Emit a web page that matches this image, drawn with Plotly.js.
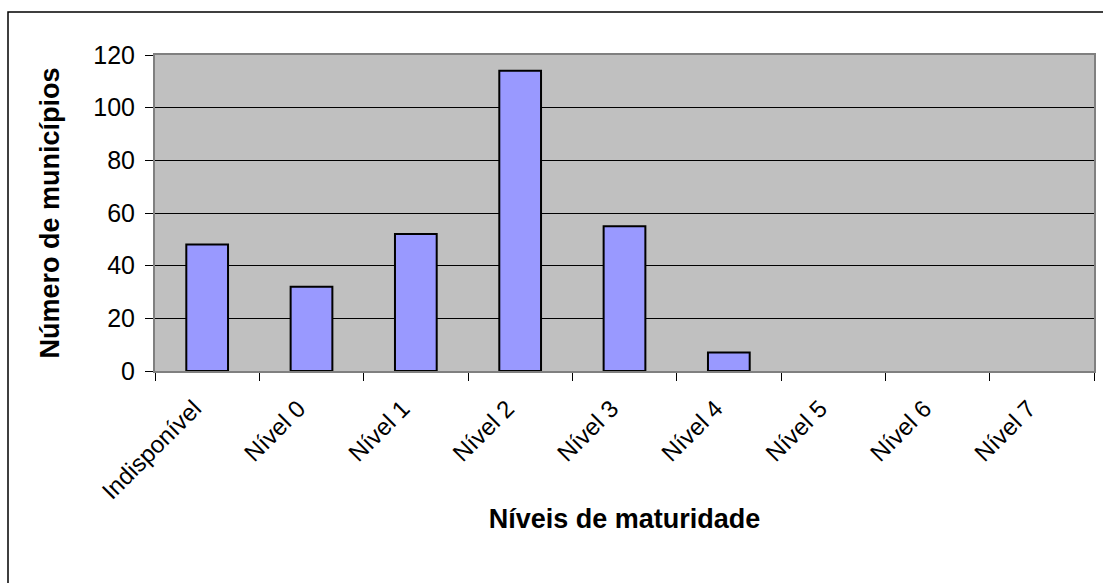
<!DOCTYPE html>
<html>
<head>
<meta charset="utf-8">
<script src="https://cdn.plot.ly/plotly-3.0.1.min.js"></script>
<style>html,body{margin:0;padding:0;background:#fff;}#chart{width:1103px;height:583px;}</style>
</head>
<body>
<div id="chart"></div>
<script>
const categories = ["Indisponível", "Nível 0", "Nível 1", "Nível 2", "Nível 3", "Nível 4", "Nível 5", "Nível 6", "Nível 7"];
const municipios = [48, 32, 52, 114, 55, 7, 0, 0, 0];
const yTicks = [0, 20, 40, 60, 80, 100, 120];

const font = "Liberation Sans, Arial, sans-serif";

const trace = {
  type: "bar",
  x: categories,
  y: municipios,
  marker: {color: "#9999FF", line: {color: "#000000", width: municipios.map(v => v > 0 ? 2 : 0)}},
  width: 0.4,
  hoverinfo: "x+y"
};

const L = 155, R = 9, T = 55, B = 212, W = 1103, H = 583;
const pw = W - L - R, ph = H - T - B;

const layout = {
  width: W, height: H,
  margin: {l: L, r: R, t: T, b: B, pad: 0},
  paper_bgcolor: "#ffffff",
  plot_bgcolor: "#C0C0C0",
  showlegend: false,
  font: {family: font, color: "#000000"},
  xaxis: {
    type: "category",
    tickson: "boundaries",
    ticks: "outside", ticklen: 8, tickcolor: "#000000", tickwidth: 1,
    tickangle: -45,
    ticklabelshift: -13,
    ticklabelstandoff: 12,
    tickfont: {family: font, size: 24, color: "#000"},
    showline: true, linecolor: "#808080", linewidth: 2, mirror: true,
    showgrid: false,
    title: {text: "<b>Níveis de maturidade</b>", font: {family: font, size: 27, color: "#000"}, standoff: 6}
  },
  yaxis: {
    range: [0, 120],
    tickvals: yTicks,
    ticks: "outside", ticklen: 8, tickcolor: "#000000", tickwidth: 1,
    ticklabelstandoff: 5,
    tickfont: {family: font, size: 25, color: "#000"},
    showline: true, linecolor: "#808080", linewidth: 2, mirror: true,
    showgrid: true, gridcolor: "#000000", gridwidth: 1,
    zeroline: false,
    title: {text: "<b>Número de municípios</b>", font: {family: font, size: 27, color: "#000"}, standoff: 26}
  },
  shapes: [{
    type: "rect", xref: "paper", yref: "paper",
    x0: (8 - L) / pw, x1: (W + 5 - L) / pw,
    y0: -(H + 5 - T - ph) / ph, y1: 1 + (T - 12) / ph,
    line: {color: "#000000", width: 1.5}, fillcolor: "rgba(0,0,0,0)", layer: "below"
  }]
};

Plotly.newPlot("chart", [trace], layout, {displayModeBar: false, staticPlot: true});
</script>
</body>
</html>
